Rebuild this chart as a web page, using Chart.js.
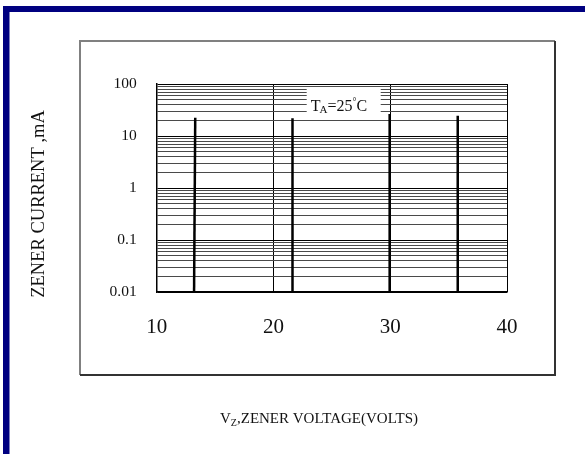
<!DOCTYPE html>
<html>
<head>
<meta charset="utf-8">
<script src="https://cdn.jsdelivr.net/npm/chart.js@4.4.1/dist/chart.umd.min.js"></script>
<style>
  html, body { margin: 0; padding: 0; background: #fff; }
  canvas { display: block; }
</style>
</head>
<body>
<canvas id="myChart" width="585" height="454"></canvas>
<script>
// zener breakdown curves (volts / mA)
var curveVoltages = [
  [13.2, 13.3],
  [21.63, 21.63],
  [29.95, 29.95],
  [35.73, 35.78]
];
var curveCurrents = [
  [0.01, 22.5],
  [0.01, 22],
  [0.01, 26.5],
  [0.01, 24.5]
];

// axis ticks
var xTicks = [10, 20, 30, 40];
var yDecades = [0.01, 0.1, 1, 10, 100];
var yDecadeLabels = ["0.01", "0.1", "1", "10", "100"];
var yMinorSteps = [2, 3, 4, 5, 6, 7, 8, 9];

var yTitle = "ZENER CURRENT ,mA";
var xTitleMain = "V";
var xTitleSub = "Z";
var xTitleRest = ",ZENER VOLTAGE(VOLTS)";
var noteMain = "T";
var noteSub = "A";
var noteRest = "=25";
var noteDeg = "\u00B0";
var noteUnit = "C";

var serif = "'Liberation Serif', 'Times New Roman', serif";

// build all y tick values (decades + minor lines)
var yTickValues = [];
for (var d = 0; d < yDecades.length; d++) {
  yTickValues.push(yDecades[d]);
  if (d < yDecades.length - 1) {
    for (var m = 0; m < yMinorSteps.length; m++) {
      yTickValues.push(+(yDecades[d] * yMinorSteps[m]).toPrecision(3));
    }
  }
}

var datasets = [];
for (var i = 0; i < curveVoltages.length; i++) {
  var pts = [];
  for (var j = 0; j < curveVoltages[i].length; j++) {
    pts.push({ x: curveVoltages[i][j], y: curveCurrents[i][j] });
  }
  datasets.push({
    data: pts,
    borderColor: "#000",
    borderWidth: 2.5,
    pointRadius: 0,
    fill: false,
    tension: 0
  });
}

// frame, blue border, axis titles and the T_A note
var decorPlugin = {
  id: "decor",
  beforeDraw: function (chart) {
    var ctx = chart.ctx;
    ctx.save();
    ctx.fillStyle = "#fff";
    ctx.fillRect(0, 0, chart.width, chart.height);
    // navy border top / left
    ctx.fillStyle = "#000080";
    ctx.fillRect(8, 6, chart.width - 8, 6);
    ctx.fillRect(3, 6, 6.5, chart.height - 6);
    // outer box
    ctx.lineWidth = 2;
    ctx.strokeStyle = "#808080";
    ctx.beginPath();
    ctx.moveTo(80, 375); ctx.lineTo(80, 41); ctx.lineTo(555, 41);
    ctx.stroke();
    ctx.strokeStyle = "#333";
    ctx.beginPath();
    ctx.moveTo(555, 41); ctx.lineTo(555, 375); ctx.lineTo(80, 375);
    ctx.stroke();
    ctx.restore();
  },
  afterDraw: function (chart) {
    var ctx = chart.ctx;
    ctx.save();
    ctx.fillStyle = "#111";
    ctx.textBaseline = "alphabetic";

    // y axis title, rotated
    ctx.save();
    ctx.translate(39, 204);
    ctx.rotate(-Math.PI / 2);
    ctx.font = "18.5px " + serif;
    ctx.textAlign = "center";
    ctx.textBaseline = "middle";
    ctx.fillText(yTitle, 0, 0);
    ctx.restore();

    // x axis title with subscript
    ctx.font = "15px " + serif;
    var w1 = ctx.measureText(xTitleMain).width;
    var w3 = ctx.measureText(xTitleRest).width;
    ctx.font = "10px " + serif;
    var w2 = ctx.measureText(xTitleSub).width;
    var x0 = 319 - (w1 + w2 + w3) / 2;
    var by = 423;
    ctx.font = "15px " + serif;
    ctx.fillText(xTitleMain, x0, by);
    ctx.font = "10px " + serif;
    ctx.fillText(xTitleSub, x0 + w1, by + 3);
    ctx.font = "15px " + serif;
    ctx.fillText(xTitleRest, x0 + w1 + w2, by);

    // T_A=25°C note on white box
    var area = chart.chartArea;
    var bx = area.left + 150, bt = area.top + 3.5;
    ctx.fillStyle = "#fff";
    ctx.fillRect(bx, bt, 74, 25);
    ctx.fillStyle = "#111";
    var tx = bx + 4, ty = bt + 23;
    ctx.font = "16px " + serif;
    ctx.fillText(noteMain, tx, ty);
    tx += ctx.measureText(noteMain).width - 1;
    ctx.font = "11px " + serif;
    ctx.fillText(noteSub, tx, ty + 2);
    tx += ctx.measureText(noteSub).width;
    ctx.font = "16px " + serif;
    ctx.fillText(noteRest, tx, ty);
    tx += ctx.measureText(noteRest).width;
    ctx.font = "10px " + serif;
    ctx.fillText(noteDeg, tx, ty - 6);
    tx += ctx.measureText(noteDeg).width;
    ctx.font = "16px " + serif;
    ctx.fillText(noteUnit, tx, ty);
    ctx.restore();
  }
};

var chart = new Chart(document.getElementById("myChart"), {
  type: "line",
  data: { datasets: datasets },
  plugins: [decorPlugin],
  options: {
    responsive: false,
    animation: false,
    layout: { padding: { left: 10, top: 84, right: 78, bottom: 0 } },
    plugins: {
      legend: { display: false },
      tooltip: { enabled: false }
    },
    scales: {
      x: {
        type: "linear",
        min: 10,
        max: 40,
        afterBuildTicks: function (scale) {
          scale.ticks = xTicks.map(function (v) { return { value: v }; });
        },
        afterFit: function (scale) { scale.height = 162; },
        ticks: {
          padding: 23,
          color: "#111",
          font: { family: serif, size: 21 }
        },
        grid: { color: "#000", lineWidth: 1, drawTicks: false },
        border: { color: "#000", width: 1.5 }
      },
      y: {
        type: "logarithmic",
        min: 0.01,
        max: 100,
        afterBuildTicks: function (scale) {
          scale.ticks = yTickValues.map(function (v) {
            return { value: v, major: yDecades.indexOf(v) >= 0 };
          });
        },
        afterFit: function (scale) { scale.width = 146.7; },
        ticks: {
          padding: 20,
          color: "#111",
          font: { family: serif, size: 15.5 },
          autoSkip: false,
          callback: function (value) {
            var k = yDecades.indexOf(value);
            return k >= 0 ? yDecadeLabels[k] : "";
          }
        },
        grid: {
          drawTicks: false,
          lineWidth: 1,
          color: function (c) {
            return c.tick && yDecades.indexOf(c.tick.value) >= 0 ? "#000" : "#4a4a4a";
          }
        },
        border: { color: "#000", width: 1.5 }
      }
    }
  }
});
</script>
</body>
</html>
